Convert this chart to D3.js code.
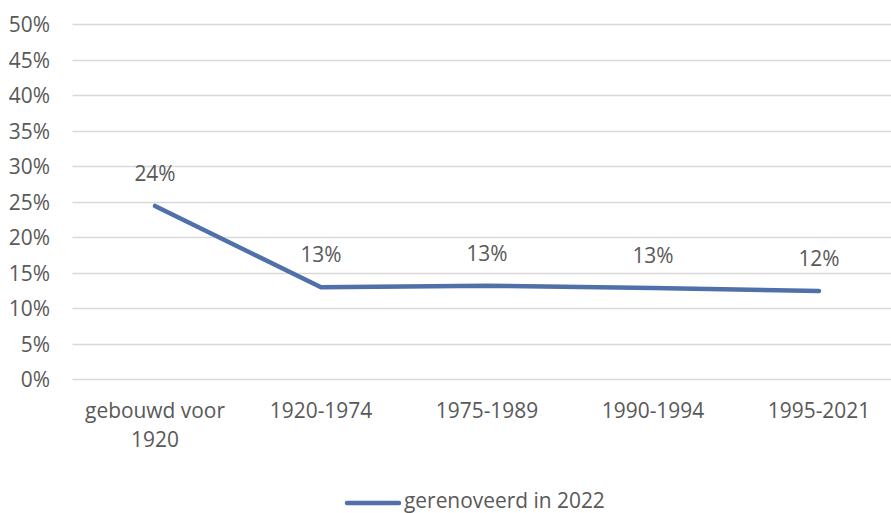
<!DOCTYPE html>
<html><head><meta charset="utf-8">
<script src="https://cdn.jsdelivr.net/npm/d3@7"></script>
<style>body{margin:0;background:#fff}svg{display:block}text{font-family:"Open Sans",sans-serif;fill:#595959}</style>
</head><body><svg id="c" width="891" height="513"></svg>
<script>
const categories = [["gebouwd voor","1920"],["1920-1974"],["1975-1989"],["1990-1994"],["1995-2021"]];
const values = [0.244, 0.1295, 0.1317, 0.1285, 0.1243];
const dataLabels = ["24%","13%","13%","13%","12%"];
const yTicks = [0,0.05,0.10,0.15,0.20,0.25,0.30,0.35,0.40,0.45,0.50];
const seriesName = "gerenoveerd in 2022";

const svg = d3.select("#c");
// fit font size so legend text width matches reference (~201px)
const probe = svg.append("text").attr("font-size", 20).text(seriesName);
const fs = 20 * 201 / probe.node().getComputedTextLength();
probe.remove();

const x = d3.scaleBand().domain(d3.range(categories.length)).range([72, 902]).padding(0);
const y = d3.scaleLinear().domain([0, 0.5]).range([379.3, 24]);

svg.append("g").selectAll("line").data(yTicks).join("line")
  .attr("x1", 72.5).attr("x2", 891)
  .attr("y1", d => Math.round(y(d)) + 0.5).attr("y2", d => Math.round(y(d)) + 0.5)
  .attr("stroke", "#d9d9d9").attr("stroke-width", 1.3);

svg.append("g").selectAll("text").data(yTicks).join("text")
  .attr("x", 50).attr("y", d => y(d)).attr("text-anchor", "end")
  .attr("dominant-baseline", "central").attr("font-size", fs)
  .text(d => d3.format(".0%")(d));

const xl = svg.append("g").selectAll("text").data(categories).join("text")
  .attr("text-anchor", "middle").attr("font-size", fs)
  .attr("x", (d, i) => x(i) + x.bandwidth() / 2);
xl.selectAll("tspan").data(d => d).join("tspan")
  .attr("x", function() { return this.parentNode.getAttribute("x"); })
  .attr("y", (d, j) => 410 + j * 29).attr("dominant-baseline", "central")
  .text(d => d);

const line = d3.line().x((d, i) => x(i) + x.bandwidth() / 2).y(d => y(d));
svg.append("path").datum(values).attr("d", line).attr("fill", "none")
  .attr("stroke", "#4f70a9").attr("stroke-width", 4.5)
  .attr("stroke-linecap", "round").attr("stroke-linejoin", "round");

svg.append("g").selectAll("text").data(values).join("text")
  .attr("x", (d, i) => x(i) + x.bandwidth() / 2).attr("y", d => y(d) - 33)
  .attr("text-anchor", "middle").attr("dominant-baseline", "central").attr("font-size", fs)
  .text((d, i) => dataLabels[i]);

const lg = svg.append("g");
lg.append("line").attr("x1", 347).attr("x2", 399).attr("y1", 503).attr("y2", 503)
  .attr("stroke", "#4f70a9").attr("stroke-width", 4.5).attr("stroke-linecap", "round");
lg.append("text").attr("x", 404).attr("y", 500).attr("dominant-baseline", "central")
  .attr("font-size", fs).text(seriesName);
</script></body></html>
